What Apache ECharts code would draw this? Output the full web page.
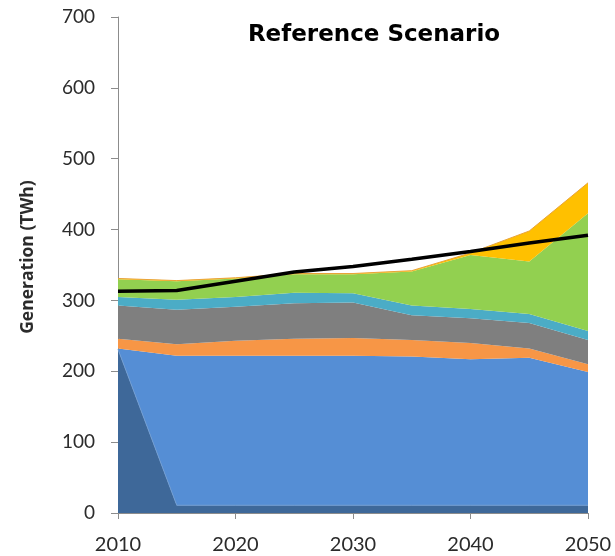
<!DOCTYPE html>
<html>
<head>
<meta charset="utf-8">
<script src="https://cdn.jsdelivr.net/npm/echarts@6/dist/echarts.min.js"></script>
<style>
  html, body { margin: 0; padding: 0; background: #fff; }
  #chart { width: 615px; height: 556px; }
</style>
</head>
<body>
<div id="chart"></div>
<script>
const years = ['2010', '2015', '2020', '2025', '2030', '2035', '2040', '2045', '2050']

// generation by source, TWh (stacked)
const darkBlue = [231, 11, 11, 11, 11, 11, 11, 11, 11]
const blue = [1, 211, 211, 211, 211, 210, 206, 208, 188]
const orange = [14, 16, 21, 24, 25, 23, 23, 13, 11]
const gray = [47, 49, 48, 50, 50, 35, 35, 36, 34]
const teal = [12, 14, 14, 15, 13, 14, 13, 13, 13]
const green = [25, 26, 26, 26, 27, 48, 76, 74, 166]
const yellow = [1, 1, 1, 1, 1, 1, 3, 43, 43]
// demand line
const demand = [313, 314, 327, 340, 348, 358, 369, 381, 392]

const chart = echarts.init(document.getElementById('chart'))

const areaSeries = (name, data, color, lineColor) => ({
  name: name,
  type: 'line',
  stack: 'gen',
  data: data,
  symbol: 'none',
  lineStyle: { width: lineColor ? 1 : 0, color: lineColor || color },
  areaStyle: { color: color, opacity: 1 },
  itemStyle: { color: color }
})

const option = {
  animation: false,
  title: {
    text: 'Reference Scenario',
    left: 369,
    top: 19,
    textAlign: 'center',
    textStyle: {
      fontFamily: 'DejaVu Sans',
      fontSize: 23,
      fontWeight: 'bold',
      color: '#000'
    }
  },
  graphic: [
    {
      type: 'text',
      x: 28,
      y: 257,
      rotation: Math.PI / 2,
      style: {
        text: 'Generation (TWh)',
        fontFamily: 'Open Sans',
        fontSize: 17.5,
        fontWeight: 'bold',
        fill: '#2b2b2b',
        align: 'center',
        verticalAlign: 'middle'
      }
    }
  ],
  grid: {
    left: 118,
    right: 27,
    top: 17,
    bottom: 43
  },
  xAxis: {
    type: 'category',
    data: years,
    boundaryGap: false,
    axisLine: { lineStyle: { color: '#8c8c8c', width: 1 } },
    axisTick: { interval: 1, length: 6, lineStyle: { color: '#8c8c8c' } },
    axisLabel: {
      interval: 1,
      margin: 22,
      fontFamily: 'Lato',
      fontSize: 20,
      color: '#2b2b2b'
    }
  },
  yAxis: {
    type: 'value',
    min: 0,
    max: 700,
    interval: 100,
    axisLine: { show: true, lineStyle: { color: '#8c8c8c', width: 1 } },
    axisTick: { show: true, length: 7, lineStyle: { color: '#8c8c8c' } },
    axisLabel: {
      margin: 23,
      fontFamily: 'Lato',
      fontSize: 19,
      color: '#2b2b2b'
    },
    splitLine: { show: false }
  },
  series: [
    areaSeries('Dark blue', darkBlue, '#3e6899', '#6f9bd0'),
    areaSeries('Blue', blue, '#558ed5'),
    areaSeries('Orange', orange, '#f79646'),
    areaSeries('Gray', gray, '#7f7f7f'),
    areaSeries('Teal', teal, '#4bacc6'),
    areaSeries('Green', green, '#92d050'),
    areaSeries('Yellow', yellow, '#ffc000', '#e8a33a'),
    {
      name: 'Demand',
      type: 'line',
      data: demand,
      symbol: 'none',
      z: 10,
      lineStyle: { color: '#000', width: 3.5 }
    }
  ]
}

chart.setOption(option)
</script>
</body>
</html>
